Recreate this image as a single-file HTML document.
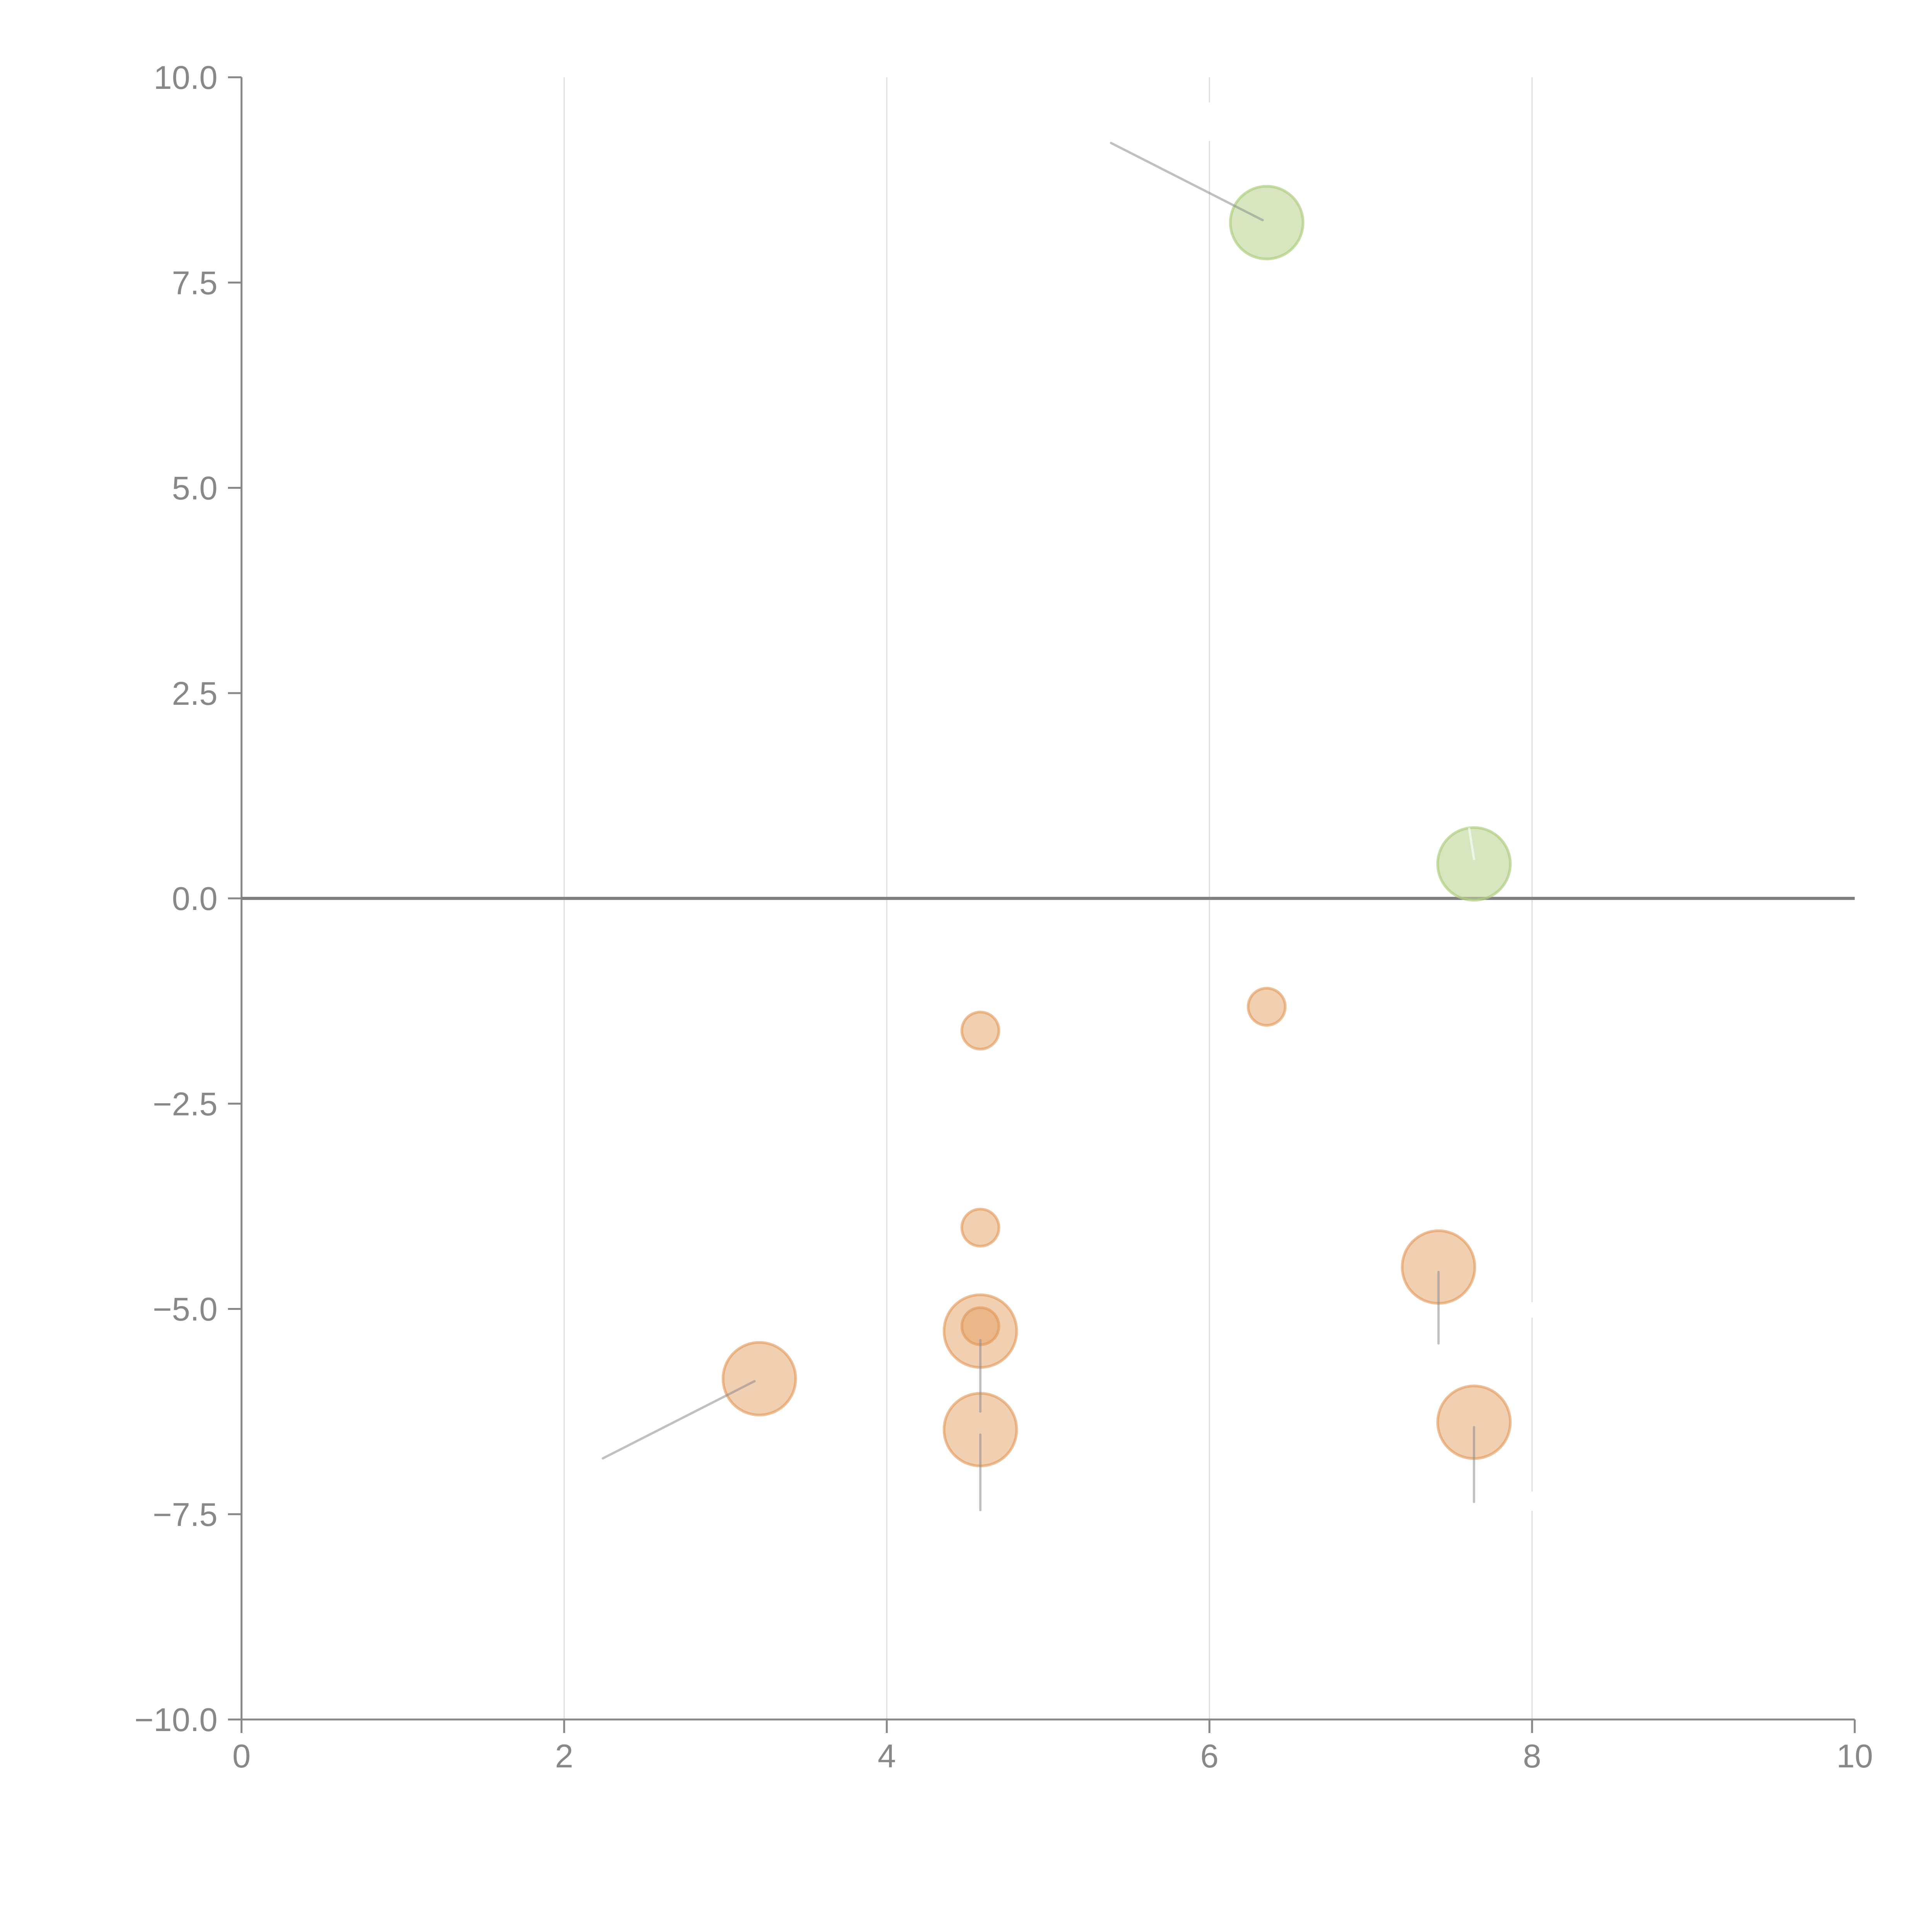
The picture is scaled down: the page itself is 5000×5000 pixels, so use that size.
<!DOCTYPE html>
<html><head><meta charset="utf-8"><style>
html,body{margin:0;padding:0;background:#fff;}
svg{display:block;}
text{font-family:"Liberation Sans",Arial,sans-serif;fill:#888;}
</style></head><body>
<svg id="chart" width="5000" height="5000" viewBox="0 0 5000 5000" xmlns="http://www.w3.org/2000/svg">
<g id="grid"></g>
<g id="axes"></g>
<g id="leaders"></g>
<g id="marks"></g>
</svg>
<script>
const xTicks = [0, 2, 4, 6, 8, 10];
const xTickLabels = ["0", "2", "4", "6", "8", "10"];
const yTicks = [-10, -7.5, -5, -2.5, 0, 2.5, 5, 7.5, 10];
const yTickLabels = ["\u221210.0","\u22127.5","\u22125.0","\u22122.5","0.0","2.5","5.0","7.5","10.0"];
const pointX = [6.355, 7.64, 4.58, 6.355, 4.58, 7.42, 4.58, 4.58, 3.21, 4.58, 7.64];
const pointY = [8.23, 0.42, -1.61, -1.32, -4.01, -4.49, -5.27, -5.21, -5.85, -6.47, -6.38];
const pointSize = [2, 2, 1, 1, 1, 2, 2, 1, 2, 2, 2];
const pointGroup = ["pos","pos","neg","neg","neg","neg","neg","neg","neg","neg","neg"];
const leaderStartX = [5.39, 7.61, 2.24, 4.58, 4.58, 7.42, 7.64];
const leaderStartY = [9.2, 0.85, -6.82, -6.25, -7.45, -5.42, -7.35];
const leaderEndX = [6.33, 7.64, 3.18, 4.58, 4.58, 7.42, 7.64];
const leaderEndY = [8.26, 0.48, -5.88, -5.38, -6.53, -4.55, -6.44];
const leaderWhite = [false, true, false, false, false, false, false];

const NS = "http://www.w3.org/2000/svg";
const X0 = 625, X1 = 4800, YT = 200, YB = 4450;
function sx(v){ return X0 + (v - 0) / 10 * (X1 - X0); }
function sy(v){ return YB - (v + 10) / 20 * (YB - YT); }
function mk(tag, attrs, parent){
  const e = document.createElementNS(NS, tag);
  for (const k in attrs) e.setAttribute(k, attrs[k]);
  parent.appendChild(e);
  return e;
}
const grid = document.getElementById('grid');
const axes = document.getElementById('axes');
const leaders = document.getElementById('leaders');
const marks = document.getElementById('marks');

xTicks.forEach((t, i) => {
  if (t > 0 && t < 10) {
    const g = mk('line', {x1: sx(t), x2: sx(t), y1: YT, y2: YB, stroke: '#dcdcdc', 'stroke-width': 3}, grid);
    
    
  }
  const tk = mk('line', {x1: sx(t), x2: sx(t), y1: YB, y2: YB + 35, stroke: '#888', 'stroke-width': 5}, axes);
  
  
  const lb = mk('text', {x: sx(t), y: YB + 124, 'text-anchor': 'middle', 'font-size': 85}, axes);
  lb.textContent = xTickLabels[i];
  
  
});
yTicks.forEach((t, i) => {
  const tk = mk('line', {x1: X0 - 35, x2: X0, y1: sy(t), y2: sy(t), stroke: '#888', 'stroke-width': 5}, axes);
  
  
  const lb = mk('text', {x: X0 - 62, y: sy(t) + 30, 'text-anchor': 'end', 'font-size': 85}, axes);
  lb.textContent = yTickLabels[i];
  
  
});
const ya = mk('line', {x1: X0, x2: X0, y1: YT, y2: YB + 35, stroke: '#888', 'stroke-width': 5}, axes);


const xa = mk('line', {x1: X0 - 35, x2: X1, y1: YB, y2: YB, stroke: '#888', 'stroke-width': 5}, axes);


const zl = mk('line', {x1: X0, x2: X1, y1: sy(0), y2: sy(0), stroke: '#808080', 'stroke-width': 8}, axes);



[[sx(6)-10, 265, 20, 100],[sx(8)-10, 3370, 20, 40],[sx(8)-10, 3860, 20, 50]].forEach(r => {
  const w = mk('rect', {x: r[0], y: r[1], width: r[2], height: r[3], fill: '#fff'}, grid);
  
  
});

pointX.forEach((v, i) => {
  const pos = pointGroup[i] === 'pos';
  const r = pointSize[i] === 2 ? 94 : 48;
  const c = mk('circle', {cx: sx(v), cy: sy(pointY[i]), r: r,
    fill: pos ? 'rgba(190,214,150,0.6)' : 'rgba(228,160,100,0.5)',
    stroke: pos ? 'rgba(175,205,130,0.7)' : 'rgba(225,150,85,0.6)', 'stroke-width': 7}, marks);
  
  
});

leaderStartX.forEach((v, i) => {
  const l = mk('line', {x1: sx(v), y1: sy(leaderStartY[i]), x2: sx(leaderEndX[i]), y2: sy(leaderEndY[i]),
    stroke: leaderWhite[i] ? 'rgba(255,255,255,0.6)' : 'rgba(140,140,140,0.55)', 'stroke-width': 6, 'stroke-linecap': 'round'}, leaders);
  
  
});
marks.parentNode.appendChild(leaders);
</script>
</body></html>
